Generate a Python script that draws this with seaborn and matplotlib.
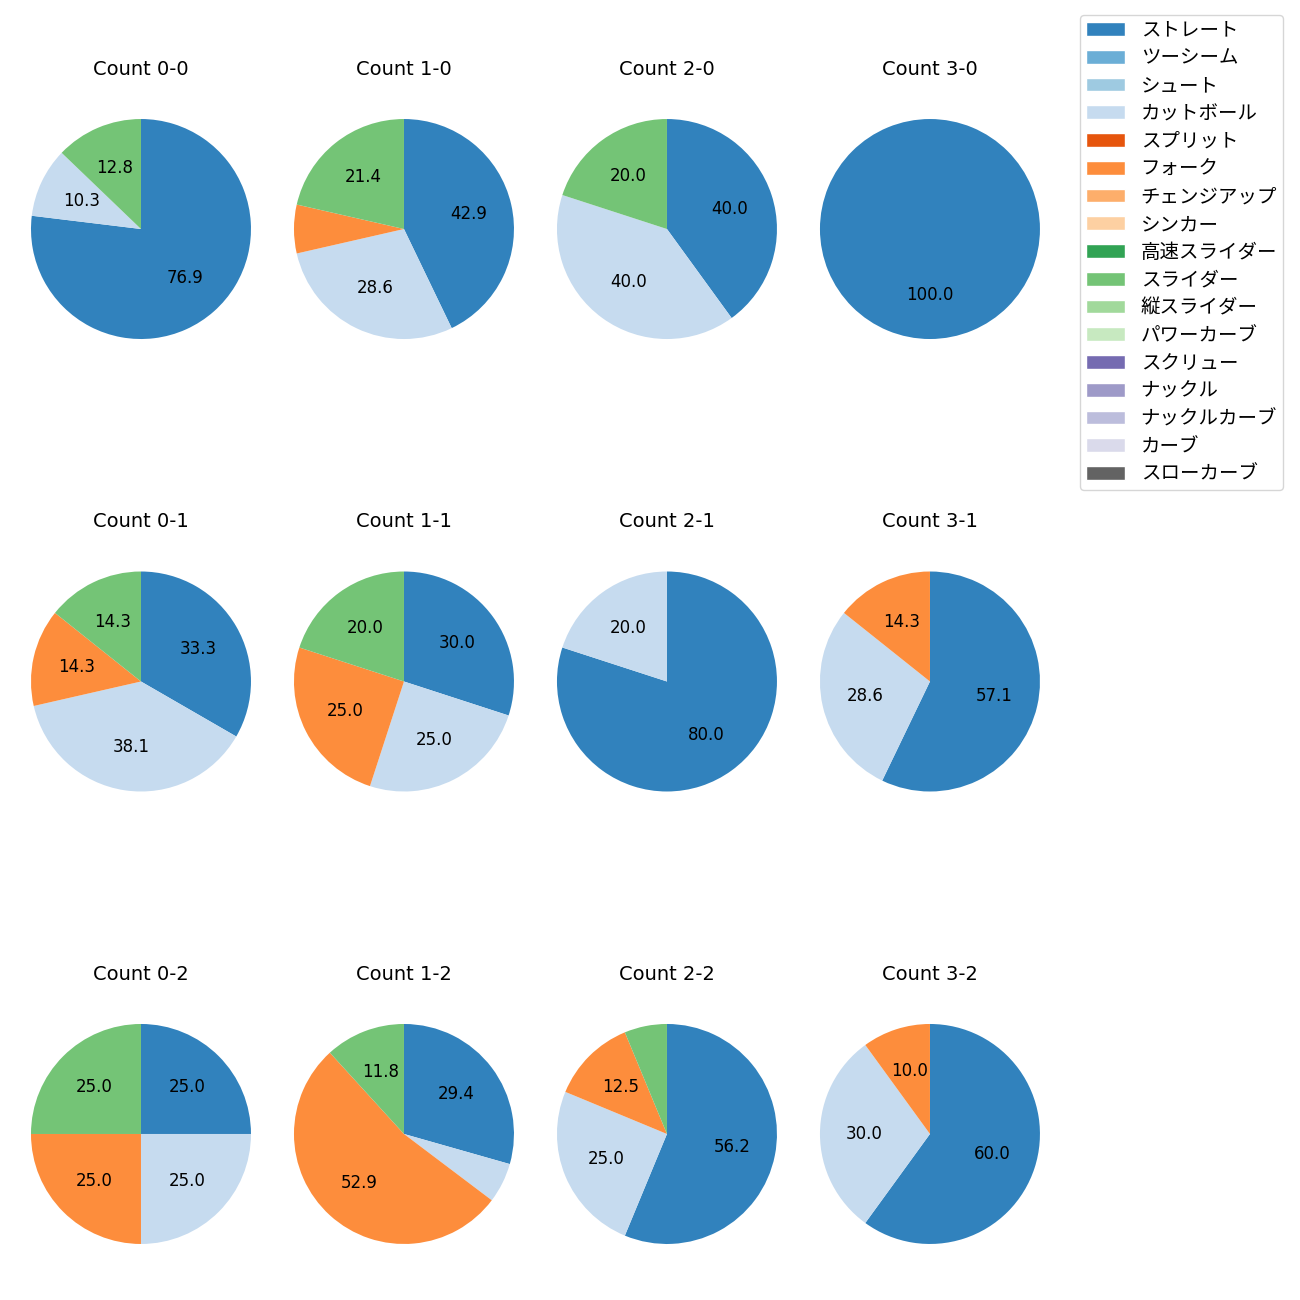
import matplotlib
matplotlib.use("Agg")
import matplotlib.pyplot as plt
import seaborn as sns
from matplotlib.patches import Patch

sns.set_theme(style="white")
plt.rcParams['font.family'] = ['DejaVu Sans', 'Noto Sans CJK JP']
plt.rcParams['font.size'] = 12
plt.rcParams['text.color'] = 'black'

pitch_types = ["ストレート", "ツーシーム", "シュート", "カットボール", "スプリット", "フォーク",
               "チェンジアップ", "シンカー", "高速スライダー", "スライダー", "縦スライダー",
               "パワーカーブ", "スクリュー", "ナックル", "ナックルカーブ", "カーブ", "スローカーブ"]
colors = sns.color_palette("tab20c", 17)

counts = ["0-0", "1-0", "2-0", "3-0",
          "0-1", "1-1", "2-1", "3-1",
          "0-2", "1-2", "2-2", "3-2"]

# pitch counts per situation: ストレート, カットボール, フォーク, スライダー
straight = [30, 6, 2, 5, 7, 6, 4, 4, 1, 5, 9, 6]
cutter   = [4, 4, 2, 0, 8, 5, 1, 2, 1, 1, 4, 3]
fork     = [0, 1, 0, 0, 3, 5, 0, 1, 1, 9, 2, 1]
slider   = [5, 3, 1, 0, 3, 4, 0, 0, 1, 2, 1, 0]

series = {"ストレート": straight, "カットボール": cutter, "フォーク": fork, "スライダー": slider}

fig, axes = plt.subplots(3, 4, figsize=(13, 13), dpi=100,
                         gridspec_kw=dict(left=0.0123, right=0.8115, top=0.92385,
                                          bottom=0.02769, wspace=0.052, hspace=0.74))

def fmt(p):
    return f"{p:.1f}" if p >= 10 else ""

for i, ax in enumerate(axes.flat):
    vals, cols = [], []
    for name in pitch_types:
        if name in series and series[name][i] > 0:
            vals.append(series[name][i])
            cols.append(colors[pitch_types.index(name)])
    ax.pie(vals, colors=cols, startangle=90, counterclock=False, radius=1.1,
           autopct=fmt, pctdistance=0.6, textprops=dict(fontsize=12, color="black"),
           wedgeprops=dict(linewidth=0, edgecolor="none"))
    ax.set_title(f"Count {counts[i]}", fontsize=14, pad=21, color="black")

handles = [Patch(facecolor=c, label=n) for n, c in zip(pitch_types, colors)]
fig.legend(handles=handles, loc="upper right", bbox_to_anchor=(1283 / 1300, 1 - 15 / 1300),
           borderaxespad=0, fontsize=14, labelspacing=0.45, borderpad=0.3,
           frameon=True, labelcolor="black")

fig.savefig("out.png", dpi=100)
